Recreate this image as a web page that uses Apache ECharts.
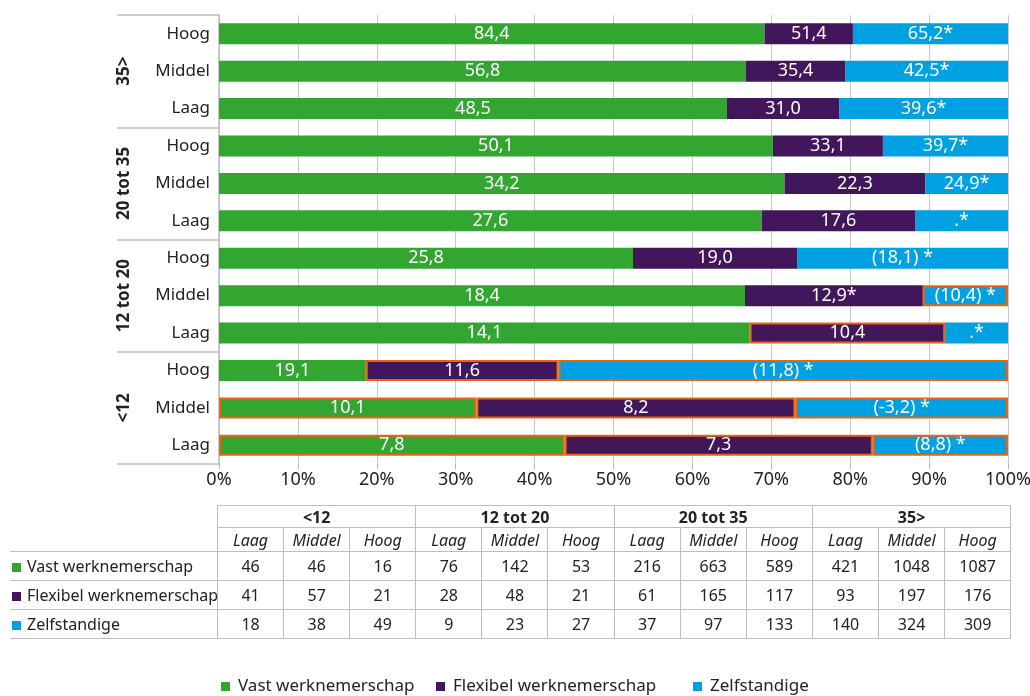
<!DOCTYPE html>
<html>
<head>
<meta charset="utf-8">
<script src="https://cdn.jsdelivr.net/npm/echarts@6/dist/echarts.min.js"></script>
<style>
    body { margin: 0; background: #fff; font-family: "Noto Sans", sans-serif; color: #222; }
    #chart { position: absolute; left: 0; top: 0; width: 1030px; height: 696px; }
    #tabel { position: absolute; left: 10px; top: 505px; width: 1001px; table-layout: fixed; border-collapse: collapse; font-size: 16px; color: #222; }
    #tabel td { border: 1.5px solid #bdbdbd; padding: 0; text-align: center; line-height: 1; }
    #tabel td.naam { text-align: left; border-left: none; white-space: nowrap; font-size: 16px; overflow: visible; }
    #tabel td.leeg { border: none; border-right: 1.5px solid #bdbdbd; }
    #tabel tr.kop1 td { height: 21px; font-weight: bold; }
    #tabel tr.kop2 td { height: 23px; font-style: italic; }
    #tabel tr.rij td { height: 28px; }
    .blok { display: inline-block; width: 9px; height: 9px; margin: 0 6px 0 2px; }
</style>
</head>
<body>
<div id="chart"></div>
<table id="tabel"></table>
<script>
// volgorde van onder naar boven (zoals de tabel van links naar rechts)
var groepen = ['<12', '12 tot 20', '20 tot 35', '35>'];
var niveaus = ['Laag', 'Middel', 'Hoog'];
var reeksen = ['Vast werknemerschap', 'Flexibel werknemerschap', 'Zelfstandige'];
var kleuren = ['#33a632', '#42165a', '#00a1e3'];

// aantallen (tabel), bepalen de breedte van de balkdelen
var aantalVast = [46, 46, 16, 76, 142, 53, 216, 663, 589, 421, 1048, 1087];
var aantalFlex = [41, 57, 21, 28, 48, 21, 61, 165, 117, 93, 197, 176];
var aantalZelf = [18, 38, 49, 9, 23, 27, 37, 97, 133, 140, 324, 309];

// teksten in de balken
var labelVast = ['7,8', '10,1', '19,1', '14,1', '18,4', '25,8', '27,6', '34,2', '50,1', '48,5', '56,8', '84,4'];
var labelFlex = ['7,3', '8,2', '11,6', '10,4', '12,9*', '19,0', '17,6', '22,3', '33,1', '31,0', '35,4', '51,4'];
var labelZelf = ['(8,8) *', '(-3,2) *', '(11,8) *', '.*', '(10,4) *', '(18,1) *', '.*', '24,9*', '39,7*', '39,6*', '42,5*', '65,2*'];

// balkdelen met oranje kader: [reeks, rij]
var omkaderd = [[0, 0], [0, 1], [1, 0], [1, 1], [1, 2], [1, 3], [2, 0], [2, 1], [2, 2], [2, 4]];

var aantallen = [aantalVast, aantalFlex, aantalZelf];
var labels = [labelVast, labelFlex, labelZelf];

var categorieen = [];
groepen.forEach(function (g) {
    niveaus.forEach(function (n) { categorieen.push(g + '|' + n); });
});

var isOmkaderd = function (s, i) {
    return omkaderd.some(function (p) { return p[0] == s && p[1] == i; });
};

var series = reeksen.map(function (naam, s) {
    return {
        name: naam,
        type: 'bar',
        stack: 'totaal',
        barWidth: 21,
        itemStyle: { color: kleuren[s] },
        label: {
            show: true,
            position: 'inside',
            color: '#fff',
            fontSize: 18,
            fontFamily: 'Noto Sans',
            formatter: function (p) { return labels[s][p.dataIndex]; }
        },
        data: aantallen[s].map(function (v, i) {
            var totaal = aantalVast[i] + aantalFlex[i] + aantalZelf[i];
            var item = { value: v / totaal * 100 };
            if (isOmkaderd(s, i)) {
                item.itemStyle = { borderColor: '#e9650d', borderWidth: 2 };
            }
            return item;
        })
    };
});

var chart = echarts.init(document.getElementById('chart'));

var legendaItem = function (naam, links) {
    return {
        data: [naam],
        left: links,
        top: 678,
        padding: 0,
        icon: 'rect',
        itemWidth: 9,
        itemHeight: 9,
        selectedMode: false,
        textStyle: { fontSize: 17, color: '#222', fontFamily: 'Noto Sans', padding: [0, 0, 0, 3] }
    };
};

var option = {
    animation: false,
    textStyle: { fontFamily: 'Noto Sans' },
    grid: { left: 219, right: 22, top: 15, bottom: 232, containLabel: false, outerBoundsMode: 'none' },
    legend: [
        legendaItem(reeksen[0], 221),
        legendaItem(reeksen[1], 436),
        legendaItem(reeksen[2], 693)
    ],
    xAxis: {
        type: 'value',
        min: 0,
        max: 100,
        interval: 10,
        axisLine: { show: false },
        axisTick: { show: true, length: 5, lineStyle: { color: '#b5b5b5' } },
        splitLine: { lineStyle: { color: '#c8c8c8', width: 1 } },
        axisLabel: { formatter: '{value}%', fontSize: 18, color: '#222', margin: 7 }
    },
    yAxis: [{
        type: 'category',
        data: categorieen,
        axisLine: { show: false },
        axisTick: { show: false },
        axisLabel: {
            fontSize: 17,
            color: '#222',
            margin: 9,
            formatter: function (v) { return v.split('|')[1]; }
        }
    }, {
        type: 'category',
        position: 'left',
        data: groepen,
        axisLine: { show: true, lineStyle: { color: '#bdbdbd', width: 1.5 } },
        axisTick: { show: true, length: 102, lineStyle: { color: '#bdbdbd', width: 1.5 } },
        axisLabel: { rotate: 90, fontSize: 17, fontWeight: 'bold', color: '#222', margin: 86 }
    }],
    series: series
};
chart.setOption(option);

// tabel onder de grafiek
var tabel = document.getElementById('tabel');
var html = '<colgroup><col style="width:207.5px">';
for (var k = 0; k < 12; k++) html += '<col style="width:66.1px">';
html += '</colgroup><tr class="kop1"><td class="naam leeg"></td>';
groepen.forEach(function (g) {
    html += '<td colspan="3">' + g.replace('<', '&lt;').replace('>', '&gt;') + '</td>';
});
html += '</tr><tr class="kop2"><td class="naam leeg"></td>';
groepen.forEach(function () {
    niveaus.forEach(function (n) { html += '<td>' + n + '</td>'; });
});
html += '</tr>';
reeksen.forEach(function (naam, s) {
    html += '<tr class="rij"><td class="naam"><span class="blok" style="background:' + kleuren[s] + '"></span>' + naam + '</td>';
    aantallen[s].forEach(function (v) { html += '<td>' + v + '</td>'; });
    html += '</tr>';
});
tabel.innerHTML = html;
</script>
</body>
</html>
